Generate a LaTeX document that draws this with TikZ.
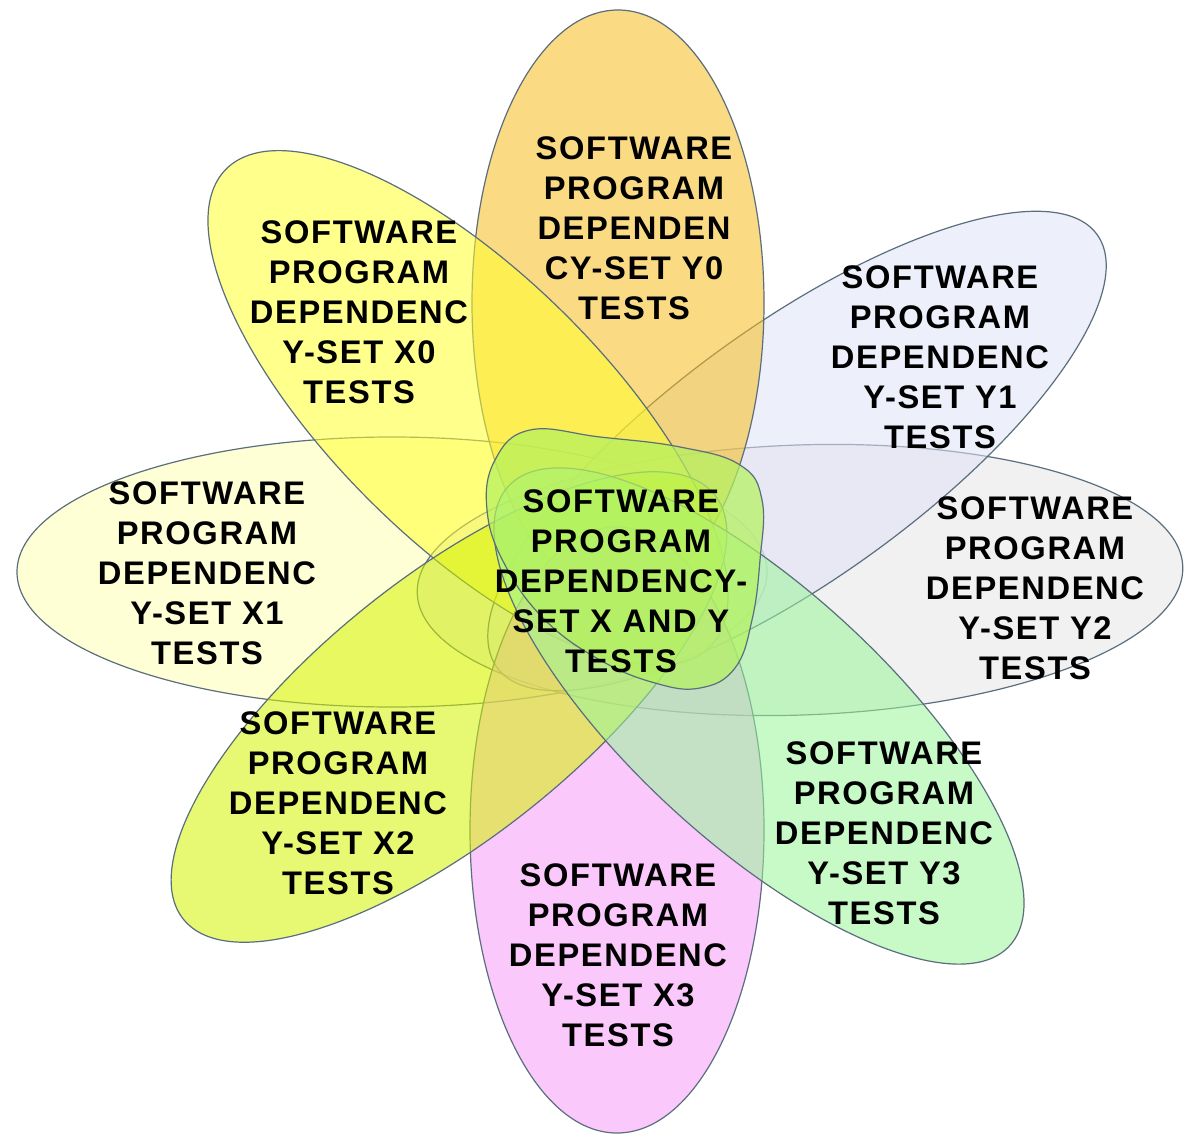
\documentclass[tikz,border=0pt]{standalone}
\usepackage{fontspec}
\setmainfont{Liberation Sans}
\newfontfamily\lblfont[LetterSpace=5]{Liberation Sans}
\definecolor{edgecol}{RGB}{90,110,125}
\definecolor{cY0}{RGB}{246,188,28}
\definecolor{cX0}{RGB}{255,255,46}
\definecolor{cX1}{RGB}{255,255,182}
\definecolor{cX2}{RGB}{213,244,0}
\definecolor{cX3}{RGB}{246,155,246}
\definecolor{cY3}{RGB}{155,246,155}
\definecolor{cY2}{RGB}{231,231,231}
\definecolor{cY1}{RGB}{224,226,246}
\definecolor{cBlob}{RGB}{180,242,95}
\begin{document}
\begin{tikzpicture}[x=0.75pt,y=-0.75pt,
  petal/.style={draw=edgecol, line width=0.9pt, fill opacity=0.55},
  lbl/.style={font=\lblfont\bfseries\fontsize{24.5}{30}\selectfont, align=center, text=black, inner sep=0pt}]
\useasboundingbox (0,0) rectangle (1187,1134);
\fill[white] (0,0) rectangle (1187,1134);
% petals
\draw[petal, fill=cX1] (392,572) ellipse [x radius=375, y radius=135];
\draw[petal, fill=cY2, shift={(800,580)}, rotate=2] (0,0) ellipse [x radius=383, y radius=135];
\draw[petal, fill=cY1, shift={(797,451)}, rotate=35.8] (0,0) ellipse [x radius=370, y radius=127];
\draw[petal, fill=cY0] (618,303) ellipse [x radius=146, y radius=293];
\draw[petal, fill=cX0, shift={(468,408)}, rotate=-44.6] (0,0) ellipse [x radius=340, y radius=135];
\draw[petal, fill=cX3] (617,830) ellipse [x radius=147, y radius=303];
\draw[petal, fill=cX2, shift={(449,707)}, rotate=38.6] (0,0) ellipse [x radius=340, y radius=130];
\draw[petal, fill=cY3, shift={(759,716)}, rotate=-42.5] (0,0) ellipse [x radius=340, y radius=127];
% centre
\draw[petal, fill=cBlob, fill opacity=0.72] plot[smooth cycle, tension=0.7] coordinates {
 (530,430) (600,437) (680,447) (740,465) (762,500) (760,560) (752,620) (735,668)
 (700,688) (655,683) (600,660) (545,620) (505,565) (487,510) (495,460)};
% labels
\node[lbl] (ty0) at (634,228) {SOFTWARE\\PROGRAM\\DEPENDEN\\CY-SET Y0\\TESTS};
\node[lbl] (tx0) at (359,312) {SOFTWARE\\PROGRAM\\DEPENDENC\\Y-SET X0\\TESTS};
\node[lbl] (ty1) at (940,357) {SOFTWARE\\PROGRAM\\DEPENDENC\\Y-SET Y1\\TESTS};
\node[lbl] (tx1) at (207,573) {SOFTWARE\\PROGRAM\\DEPENDENC\\Y-SET X1\\TESTS};
\node[lbl] (tc) at (621,581) {SOFTWARE\\PROGRAM\\DEPENDENCY-\\SET X AND Y\\TESTS};
\node[lbl] (ty2) at (1035,588) {SOFTWARE\\PROGRAM\\DEPENDENC\\Y-SET Y2\\TESTS};
\node[lbl] (tx2) at (338,803) {SOFTWARE\\PROGRAM\\DEPENDENC\\Y-SET X2\\TESTS};
\node[lbl] (ty3) at (884,833) {SOFTWARE\\PROGRAM\\DEPENDENC\\Y-SET Y3\\TESTS};
\node[lbl] (tx3) at (618,955) {SOFTWARE\\PROGRAM\\DEPENDENC\\Y-SET X3\\TESTS};
\end{tikzpicture}
\end{document}
